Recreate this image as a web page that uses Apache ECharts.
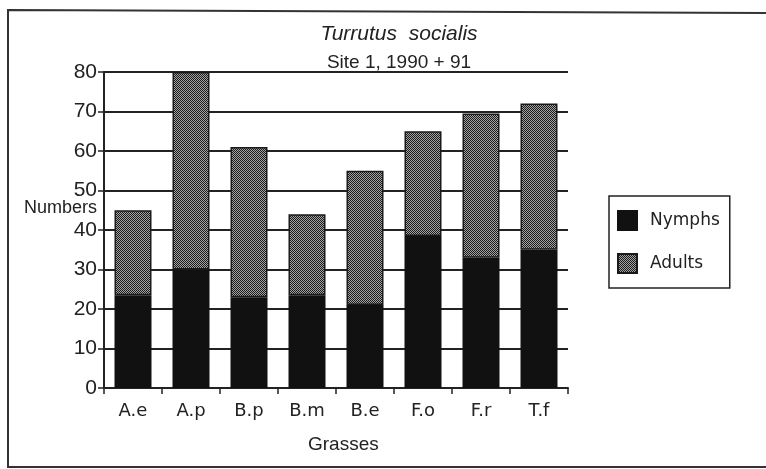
<!DOCTYPE html>
<html>
<head>
<meta charset="utf-8">
<script src="https://cdn.jsdelivr.net/npm/echarts@6/dist/echarts.min.js"></script>
<style>
  html, body { margin: 0; padding: 0; background: #fff; }
  #chart { width: 766px; height: 469px; }
</style>
</head>
<body>
<div id="chart"></div>
<script>
// Grass species codes along the x axis
const grasses = ['A.e', 'A.p', 'B.p', 'B.m', 'B.e', 'F.o', 'F.r', 'T.f'];
// Counts per grass, stacked: nymphs at the base, adults on top
const nymphs = [23.5, 30, 23, 23.5, 21, 38.5, 33, 35];
const adults = [21.5, 50, 38, 20.5, 34, 26.5, 36.5, 37];
// Value axis range
const yMin = 0, yMax = 80, yStep = 10;

// Fine checkered fill used for the adults segments
function checkerPattern() {
  const c = document.createElement('canvas');
  c.width = 2; c.height = 2;
  const g = c.getContext('2d');
  g.fillStyle = '#a4a4a4';
  g.fillRect(0, 0, 2, 2);
  g.fillStyle = '#1a1a1a';
  g.fillRect(0, 0, 1, 1);
  g.fillRect(1, 1, 1, 1);
  return { image: c, repeat: 'repeat' };
}

const chart = echarts.init(document.getElementById('chart'), null, { renderer: 'canvas' });
const helv = 'Liberation Sans, Arial, sans-serif';
const gothic = 'DejaVu Sans, sans-serif';

chart.setOption({
  animation: false,
  backgroundColor: '#fff',
  title: [
    { text: 'Turrutus  socialis', left: 394, top: 19, textAlign: 'center',
      textStyle: { fontFamily: helv, fontStyle: 'italic', fontWeight: 'normal', fontSize: 21, color: '#222' } },
    { text: 'Site 1, 1990 + 91', left: 394, top: 48, textAlign: 'center',
      textStyle: { fontFamily: helv, fontWeight: 'normal', fontSize: 19, color: '#222' } }
  ],
  legend: {
    orient: 'vertical', left: 609, top: 196,
    itemWidth: 19, itemHeight: 19, itemGap: 22,
    padding: [14, 10, 14, 8],
    borderColor: '#222', borderWidth: 1.5, borderRadius: 0,
    icon: 'rect',
    textStyle: { fontFamily: gothic, fontSize: 17, color: '#222', padding: [0, 0, 0, 8] },
    data: ['Nymphs', 'Adults']
  },
  grid: { left: 104, right: 198, top: 72, bottom: 81, containLabel: false },
  xAxis: {
    type: 'category', data: grasses, boundaryGap: true,
    axisLine: { lineStyle: { color: '#222', width: 2 } },
    axisTick: { show: true, length: 6, lineStyle: { color: '#222', width: 1.5 } },
    axisLabel: { fontFamily: gothic, fontSize: 18, color: '#222', margin: 14 }
  },
  yAxis: {
    type: 'value', min: yMin, max: yMax, interval: yStep,
    axisLine: { show: true, lineStyle: { color: '#222', width: 2 } },
    axisTick: { show: true, length: 6, lineStyle: { color: '#222', width: 1.5 } },
    axisLabel: { fontFamily: helv, fontSize: 21, color: '#222', margin: 7 },
    splitLine: { show: true, lineStyle: { color: '#222', width: 2 } }
  },
  series: [
    { name: 'Nymphs', type: 'bar', stack: 'n', data: nymphs, barWidth: 37,
      itemStyle: { color: '#111', borderColor: '#111', borderWidth: 1.5 } },
    { name: 'Adults', type: 'bar', stack: 'n', data: adults, barWidth: 37,
      itemStyle: { color: checkerPattern(), borderColor: '#1a1a1a', borderWidth: 1.5 } }
  ],
  graphic: [
    { type: 'polyline', silent: true,
      shape: { points: [[770, 13], [8, 10], [8, 467], [770, 467]] },
      style: { stroke: '#333', lineWidth: 2, fill: null } },
    { type: 'text', left: 24, top: 199, silent: true,
      style: { text: 'Numbers', font: '18px ' + helv, fill: '#222' } },
    { type: 'text', left: 308, top: 435, silent: true,
      style: { text: 'Grasses', font: '19px ' + helv, fill: '#222' } }
  ]
});
</script>
</body>
</html>
